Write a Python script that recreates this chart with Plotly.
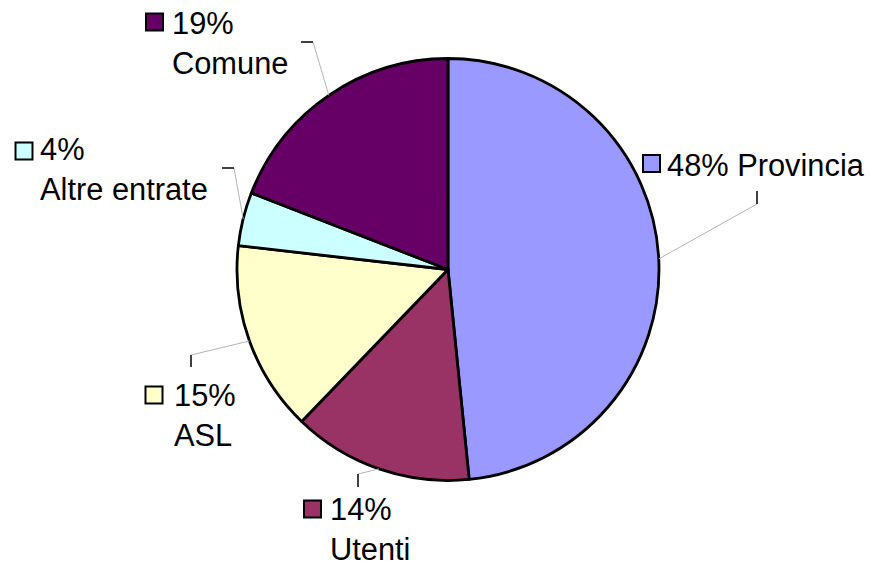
import math
import plotly.graph_objects as go

# ---- data ----
labels = ["Provincia", "Utenti", "ASL", "Altre entrate", "Comune"]
values = [48.4, 13.8, 14.6, 4.1, 19.1]
colors = ["#9999FF", "#993366", "#FFFFCC", "#CCFFFF", "#660066"]

W, H = 869, 568
CX, CY, R = 448, 269.5, 211  # pie geometry in px


def px(x):
    return x / W


def py(y):
    return 1 - y / H


fig = go.Figure(
    go.Pie(
        labels=labels,
        values=values,
        sort=False,
        direction="clockwise",
        rotation=0,
        textinfo="none",
        hoverinfo="label+percent",
        marker=dict(colors=colors, line=dict(color="black", width=2.8)),
        domain=dict(x=[px(CX - R), px(CX + R)], y=[py(CY + R), py(CY - R)]),
        showlegend=False,
    )
)

# label layout (positions in px): text-box anchor, square centre, leader elbow + tick end
label_layout = {
    "Provincia": dict(tx=665, ty=146, sq=(651.5, 163.5), elbow=(757, 204), tick=(757, 191), two_line=False),
    "Utenti": dict(tx=328, ty=490, sq=(312.5, 509), elbow=(358, 474), tick=(358, 487), two_line=True),
    "ASL": dict(tx=172, ty=376, sq=(154, 395), elbow=(191, 355), tick=(191, 367), two_line=True),
    "Altre entrate": dict(tx=38, ty=130, sq=(24, 151), elbow=(234, 168), tick=(222, 168), two_line=True),
    "Comune": dict(tx=170, ty=4, sq=(154.5, 22), elbow=(313, 42), tick=(301, 42), two_line=True),
}

total = sum(values)
cum = 0
shapes = []
annotations = []
for lab, v, col in zip(labels, values, colors):
    mid = (cum + v / 2) / total
    cum += v
    th = 2 * math.pi * mid
    ex = CX + R * math.sin(th)
    ey = CY - R * math.cos(th)
    L = label_layout[lab]
    pt = f"{round(100 * v / total)}%"
    # leader lines
    shapes.append(dict(type="line", xref="paper", yref="paper",
                       x0=px(ex), y0=py(ey), x1=px(L["elbow"][0]), y1=py(L["elbow"][1]),
                       line=dict(color="#b4b4b4", width=1)))
    shapes.append(dict(type="line", xref="paper", yref="paper",
                       x0=px(L["elbow"][0]), y0=py(L["elbow"][1]), x1=px(L["tick"][0]), y1=py(L["tick"][1]),
                       line=dict(color="black", width=1.5)))
    # legend key square
    s = 8.5
    sx, sy = L["sq"]
    shapes.append(dict(type="rect", xref="paper", yref="paper",
                       x0=px(sx - s), x1=px(sx + s), y0=py(sy + s), y1=py(sy - s),
                       fillcolor=col, line=dict(color="black", width=2)))
    txt = f"{pt}<br>{lab}" if L["two_line"] else f"{pt} {lab}"
    annotations.append(dict(x=px(L["tx"]), y=py(L["ty"]), xref="paper", yref="paper",
                            xanchor="left", yanchor="top", align="left", showarrow=False,
                            text=txt, font=dict(family="Liberation Sans, Arial, sans-serif", size=30.8, color="black")))

fig.update_layout(
    width=W, height=H,
    margin=dict(l=0, r=0, t=0, b=0),
    paper_bgcolor="white", plot_bgcolor="white",
    shapes=shapes, annotations=annotations,
)

fig.write_html("out.html", config={"displayModeBar": False},
               post_script="document.body.style.margin='0px';")
